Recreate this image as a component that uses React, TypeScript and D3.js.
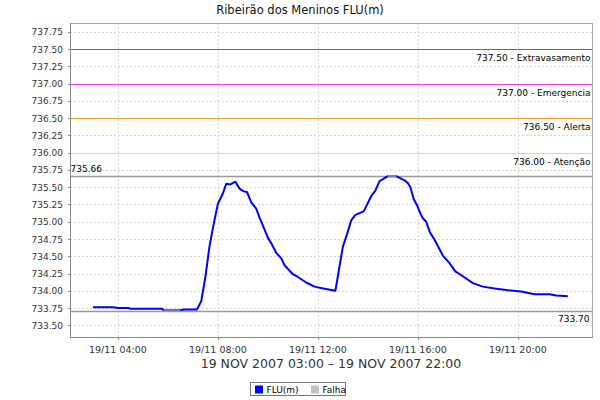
import * as d3 from "d3";
import { useEffect, useRef } from "react";

// leituras do nível (hora local, metros)
const times = [
  "03:00", "03:50", "04:00", "04:25", "04:30", "05:45", "05:50", "06:30",
  "06:40", "07:10", "07:20", "07:30", "07:40", "07:50", "08:00", "08:12",
  "08:20", "08:30", "08:42", "08:52", "09:02", "09:10", "09:20", "09:32",
  "09:40", "10:00", "10:08", "10:20", "10:32", "10:40", "11:00", "11:12",
  "11:32", "11:52", "12:16", "12:42", "13:00", "13:10", "13:20", "13:30",
  "13:50", "14:08", "14:18", "14:28", "14:48", "15:08", "15:28", "15:36",
  "15:42", "15:50", "15:58", "16:06", "16:12", "16:20", "16:28", "16:40",
  "17:00", "17:16", "17:30", "17:48", "18:12", "18:36", "19:08", "19:32",
  "20:08", "20:40", "21:16", "21:32", "22:00",
];
const levels = [
  733.76, 733.76, 733.75, 733.75, 733.74, 733.74, 733.72, 733.72,
  733.73, 733.73, 733.85, 734.2, 734.65, 734.97, 735.26, 735.41,
  735.55, 735.54, 735.58, 735.48, 735.44, 735.43, 735.28, 735.19,
  735.06, 734.77, 734.69, 734.55, 734.47, 734.37, 734.24, 734.2,
  734.12, 734.06, 734.03, 734.0, 734.64, 734.82, 735.02, 735.1,
  735.15, 735.37, 735.45, 735.59, 735.66, 735.66, 735.6, 735.56,
  735.5, 735.33, 735.24, 735.12, 735.05, 735.0, 734.86, 734.74,
  734.51, 734.4, 734.28, 734.21, 734.11, 734.06, 734.03, 734.01,
  733.99, 733.95, 733.95, 733.93, 733.92,
];

const falhaStart = ["05:50", "14:48"];
const falhaEnd = ["06:30", "15:08"];

const thresholdValues = [737.5, 737.0, 736.5, 736.0];
const thresholdLabels = [
  "737.50 - Extravasamento",
  "737.00 - Emergencia",
  "736.50 - Alerta",
  "736.00 - Atenção",
];
const thresholdColors = ["#e23b3b", "#f23cf2", "#f59a2c", "#f7d64a"];

const maxLevel = 735.66;
const minLevel = 733.7;

const yTicks = d3.range(733.5, 737.76, 0.25);
const title = "Ribeirão dos Meninos FLU(m)";
const periodLabel = "19 NOV 2007 03:00 – 19 NOV 2007 22:00";
const seriesNames = ["FLU(m)", "Falha"];

const parse = (t: string) => {
  const [h, m] = t.split(":").map(Number);
  return new Date(2007, 10, 19, h, m);
};

const font = "DejaVu Sans, Verdana, sans-serif";

const App = () => {
  const svgRef = useRef<SVGSVGElement | null>(null);

  useEffect(() => {
    const width = 600;
    const height = 400;
    const plot = { left: 70, top: 23, right: 592, bottom: 337 };

    const data = times.map((t, i) => ({ date: parse(t), value: levels[i] }));

    const xScale = d3
      .scaleTime()
      .domain([parse("02:05"), parse("22:58")])
      .range([plot.left, plot.right]);

    const yScale = d3
      .scaleLinear()
      .domain([733.33, 737.88])
      .range([plot.bottom, plot.top]);

    const svg = d3.select(svgRef.current);
    svg.selectAll("*").remove();

    svg
      .append("rect")
      .attr("width", width)
      .attr("height", height)
      .attr("fill", "#fff");

    // title
    svg
      .append("text")
      .attr("x", 300)
      .attr("y", 13.5)
      .attr("text-anchor", "middle")
      .attr("font-family", font)
      .attr("font-size", 11.5)
      .attr("fill", "#111")
      .text(title);

    const grid = svg.append("g");
    const xTicks = xScale.ticks(d3.timeHour.every(4)!).filter((d) => d.getHours() >= 4);

    grid
      .selectAll("line.gy")
      .data(yTicks)
      .join("line")
      .attr("x1", plot.left)
      .attr("x2", plot.right)
      .attr("y1", (d) => Math.round(yScale(d)) + 0.5)
      .attr("y2", (d) => Math.round(yScale(d)) + 0.5)
      .attr("stroke", "#d6d6d6")
      .attr("stroke-dasharray", "2,2");

    grid
      .selectAll("line.gx")
      .data(xTicks)
      .join("line")
      .attr("x1", (d) => Math.round(xScale(d)) + 0.5)
      .attr("x2", (d) => Math.round(xScale(d)) + 0.5)
      .attr("y1", plot.top)
      .attr("y2", plot.bottom)
      .attr("stroke", "#d6d6d6")
      .attr("stroke-dasharray", "2,2");

    // threshold lines
    thresholdValues.forEach((v, i) => {
      const y = Math.round(yScale(v)) + 0.5;
      svg
        .append("line")
        .attr("x1", plot.left)
        .attr("x2", plot.right)
        .attr("y1", y)
        .attr("y2", y)
        .attr("stroke", thresholdColors[i]);
      svg
        .append("text")
        .attr("x", plot.right - 1.5)
        .attr("y", y + 11.5)
        .attr("text-anchor", "end")
        .attr("font-family", font)
        .attr("font-size", 9)
        .attr("fill", "#000")
        .text(thresholdLabels[i]);
    });

    // max / min markers
    [maxLevel, minLevel].forEach((v, i) => {
      const y = Math.round(yScale(v)) + 0.5;
      svg
        .append("line")
        .attr("x1", plot.left)
        .attr("x2", plot.right)
        .attr("y1", y)
        .attr("y2", y)
        .attr("stroke", "#999")
        .attr("stroke-width", 1.3);
      svg
        .append("text")
        .attr("x", i === 0 ? plot.left + 0.5 : plot.right - 2.5)
        .attr("y", i === 0 ? y - 5 : y + 10.5)
        .attr("text-anchor", i === 0 ? "start" : "end")
        .attr("font-family", font)
        .attr("font-size", 9)
        .attr("fill", "#000")
        .text(v.toFixed(2));
    });

    const line = d3
      .line<{ date: Date; value: number }>()
      .x((d) => xScale(d.date))
      .y((d) => yScale(d.value));

    svg
      .append("path")
      .datum(data)
      .attr("fill", "none")
      .attr("stroke", "#0000ff")
      .attr("stroke-width", 2)
      .attr("stroke-linejoin", "round")
      .attr("d", line);

    falhaStart.forEach((s, i) => {
      const a = parse(s);
      const b = parse(falhaEnd[i]);
      const seg = data.filter((d) => d.date >= a && d.date <= b);
      svg
        .append("path")
        .datum(seg)
        .attr("fill", "none")
        .attr("stroke", "#c0c0c0")
        .attr("stroke-opacity", 0.6)
        .attr("stroke-width", 2)
        .attr("d", line);
    });

    // frame + axes
    svg
      .append("rect")
      .attr("x", plot.left + 0.5)
      .attr("y", plot.top + 0.5)
      .attr("width", plot.right - plot.left)
      .attr("height", plot.bottom - plot.top)
      .attr("fill", "none")
      .attr("stroke", "#a8a8a8");

    const yAxis = svg.append("g");
    yAxis
      .append("line")
      .attr("x1", plot.left + 0.5)
      .attr("x2", plot.left + 0.5)
      .attr("y1", plot.top)
      .attr("y2", plot.bottom + 1)
      .attr("stroke", "#8a8a8a");
    yAxis
      .selectAll("line.t")
      .data(yTicks)
      .join("line")
      .attr("x1", plot.left - 2)
      .attr("x2", plot.left)
      .attr("y1", (d) => Math.round(yScale(d)) + 0.5)
      .attr("y2", (d) => Math.round(yScale(d)) + 0.5)
      .attr("stroke", "#8a8a8a");
    yAxis
      .selectAll("text")
      .data(yTicks)
      .join("text")
      .attr("x", plot.left - 7)
      .attr("y", (d) => yScale(d) + 3.5)
      .attr("text-anchor", "end")
      .attr("font-family", font)
      .attr("font-size", 9)
      .attr("fill", "#333")
      .text((d) => d3.format(".2f")(d));

    const xAxis = svg.append("g");
    xAxis
      .append("line")
      .attr("x1", plot.left)
      .attr("x2", plot.right + 1)
      .attr("y1", plot.bottom + 0.5)
      .attr("y2", plot.bottom + 0.5)
      .attr("stroke", "#8a8a8a");
    xAxis
      .selectAll("line.t")
      .data(xTicks)
      .join("line")
      .attr("x1", (d) => Math.round(xScale(d)) + 0.5)
      .attr("x2", (d) => Math.round(xScale(d)) + 0.5)
      .attr("y1", plot.bottom)
      .attr("y2", plot.bottom + 3)
      .attr("stroke", "#8a8a8a");
    xAxis
      .selectAll("text")
      .data(xTicks)
      .join("text")
      .attr("x", (d) => xScale(d))
      .attr("y", 352.5)
      .attr("text-anchor", "middle")
      .attr("font-family", font)
      .attr("font-size", 9.5)
      .attr("fill", "#333")
      .text((d) => d3.timeFormat("%d/%m %H:%M")(d));

    svg
      .append("text")
      .attr("x", (plot.left + plot.right) / 2)
      .attr("y", 367.5)
      .attr("text-anchor", "middle")
      .attr("font-family", font)
      .attr("font-size", 12.5)
      .attr("fill", "#333")
      .text(periodLabel);

    // legend
    const legend = svg.append("g");
    legend
      .append("rect")
      .attr("x", 250.5)
      .attr("y", 382.5)
      .attr("width", 95)
      .attr("height", 13)
      .attr("fill", "#fff")
      .attr("stroke", "#777");
    const swatchX = [255, 311];
    const swatchColors = ["#0000ff", "#c0c0c0"];
    seriesNames.forEach((name, i) => {
      legend
        .append("rect")
        .attr("x", swatchX[i])
        .attr("y", 385.5)
        .attr("width", 8)
        .attr("height", 8)
        .attr("fill", swatchColors[i]);
      legend
        .append("text")
        .attr("x", swatchX[i] + 11.5)
        .attr("y", 393)
        .attr("font-family", font)
        .attr("font-size", 9)
        .attr("fill", "#000")
        .text(name);
    });
  }, []);

  return (
    <svg
      ref={svgRef}
      width={600}
      height={400}
      style={{ position: "absolute", left: 0, top: 0 }}
    ></svg>
  );
};

export default App;
